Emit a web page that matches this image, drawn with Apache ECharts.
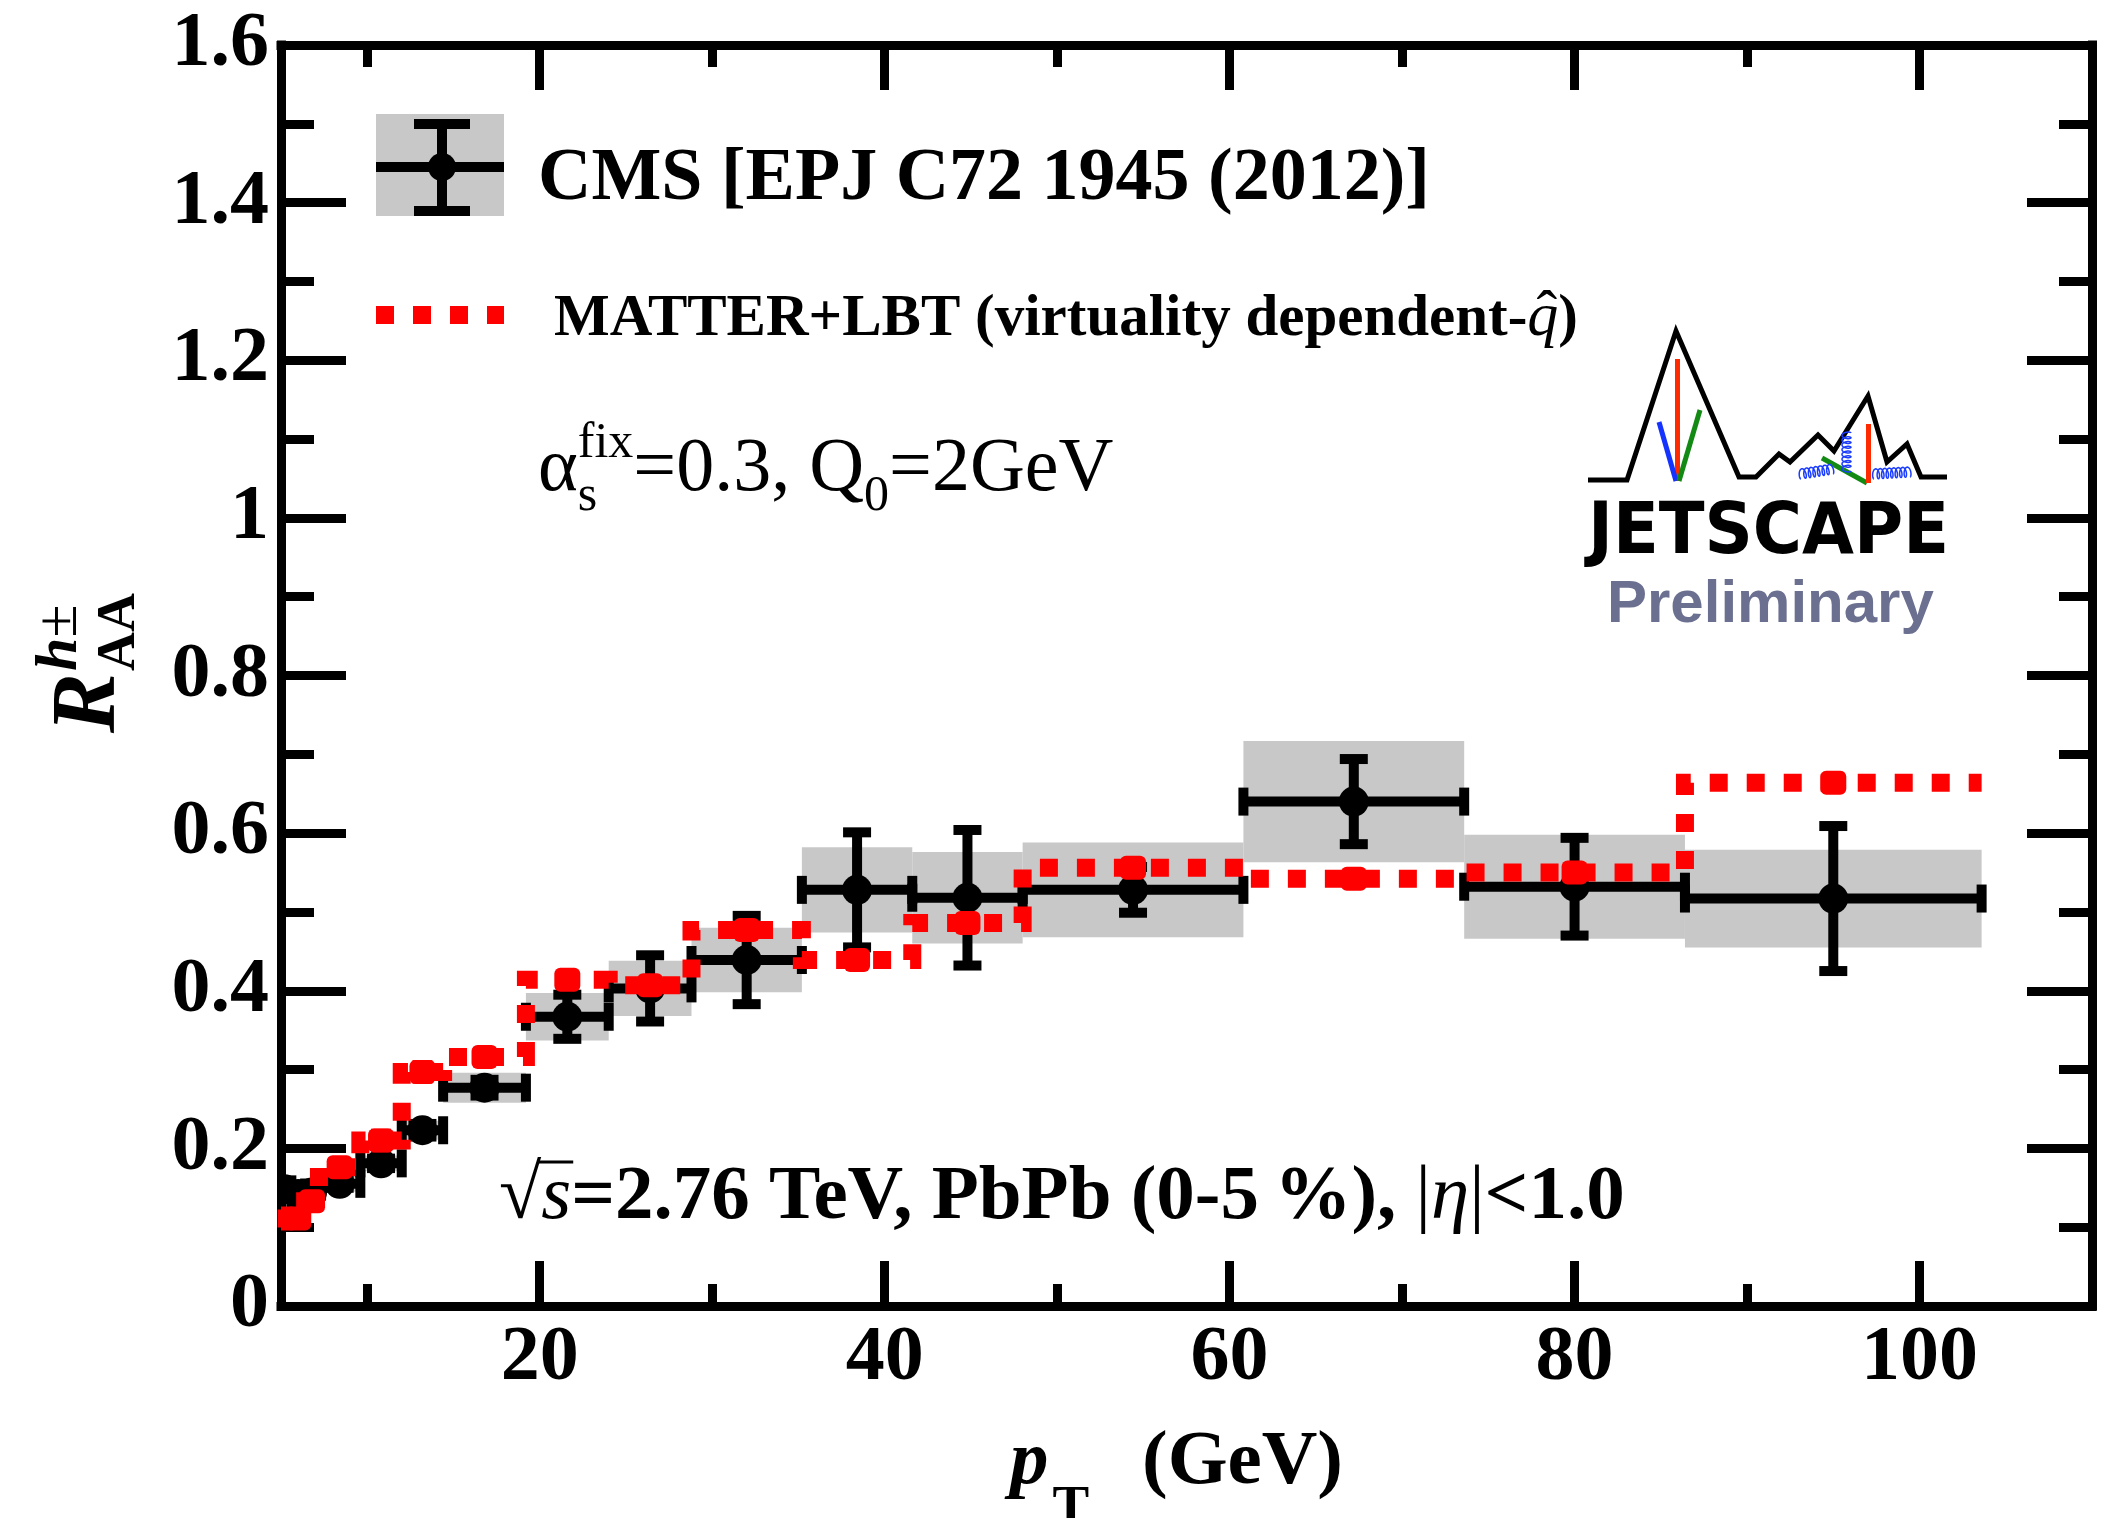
<!DOCTYPE html>
<html>
<head>
<meta charset="utf-8">
<script src="https://cdn.jsdelivr.net/npm/echarts@6/dist/echarts.min.js"></script>
<style>
  html, body { margin: 0; padding: 0; background: #fff; }
  #chart { width: 2104px; height: 1518px; }
</style>
</head>
<body>
<div id="chart"></div>
<script>
// Charged-hadron nuclear modification factor, PbPb 0-5%, sqrt(s)=2.76 TeV
const binLo   = [4.8, 5.6, 6.4, 7.2, 9.6, 12.0, 14.4, 19.2, 24.0, 28.8, 35.2, 41.6, 48.0, 60.8, 73.6, 86.4];
const binHi   = [5.6, 6.4, 7.2, 9.6, 12.0, 14.4, 19.2, 24.0, 28.8, 35.2, 41.6, 48.0, 60.8, 73.6, 86.4, 103.6];
const cmsPt   = [5.2, 6.0, 6.8, 8.4, 10.8, 13.2, 16.8, 21.6, 26.4, 32.0, 38.4, 44.8, 54.4, 67.2, 80.0, 95.0];
const cmsRaa  = [0.148, 0.142, 0.144, 0.155, 0.181, 0.223, 0.277, 0.367, 0.403, 0.439, 0.528, 0.518, 0.528, 0.640, 0.532, 0.517];
const cmsStat = [0.004, 0.004, 0.004, 0.005, 0.006, 0.008, 0.010, 0.028, 0.042, 0.056, 0.073, 0.086, 0.029, 0.054, 0.062, 0.092];
const cmsSyst = [0.010, 0.010, 0.010, 0.010, 0.010, 0.012, 0.019, 0.030, 0.035, 0.041, 0.054, 0.058, 0.060, 0.077, 0.066, 0.062];

// MATTER+LBT (virtuality dependent q-hat), same binning
const modelRaa = [0.111, 0.111, 0.133, 0.176, 0.210, 0.297, 0.316, 0.414, 0.407, 0.477, 0.439, 0.486, 0.556, 0.542, 0.550, 0.664];
const modelErr = [0.006, 0.006, 0.006, 0.008, 0.015, 0.015, 0.012, 0.012, 0.010, 0.010, 0.006, 0.012, 0.006, 0.012, 0.012, 0.014];

// Axis ticks
const xMajorTicks = [20, 40, 60, 80, 100];
const xMinorTicks = [10, 30, 50, 70, 90];
const yTickLabels = ['0', '0.2', '0.4', '0.6', '0.8', '1', '1.2', '1.4', '1.6'];

const SERIF = '"Liberation Serif", "Times New Roman", serif';
const SANS = '"Liberation Sans", Arial, sans-serif';
const LW = 9;

// ---------- text helpers ----------
const mctx = document.createElement('canvas').getContext('2d');
function fontOf(s) {
  return (s.style || 'normal') + ' ' + (s.weight || 'normal') + ' ' + s.size + 'px ' + (s.family || SERIF);
}
function widthOf(t, f) { mctx.font = f; mctx.textBaseline = 'alphabetic'; return mctx.measureText(t).width; }
function midOff(f) {
  mctx.font = f; mctx.textBaseline = 'middle';
  const d = mctx.measureText('H').actualBoundingBoxDescent;
  mctx.textBaseline = 'alphabetic';
  return d;
}
function textEl(t, f, x, yBase, fill, extra) {
  return Object.assign({
    type: 'text', x: x, y: yBase - midOff(f), z: 100, silent: true,
    style: { text: t, font: f, fill: fill || '#000', align: 'left', verticalAlign: 'middle',
             textAlign: 'left', textVerticalAlign: 'middle' }
  }, extra || {});
}
// lays out a run of text pieces on one baseline; 'hold' stacks the next piece at the same x
function run(x0, yBase, segs) {
  let x = x0, held = 0;
  const els = [], xs = [];
  segs.forEach(s => {
    const f = fontOf(s);
    const w = widthOf(s.t, f);
    const sx = (s.at != null ? s.at : x) + (s.dx || 0);
    xs.push([sx, sx + w]);
    els.push(textEl(s.t, f, sx, yBase + (s.dy || 0), s.color));
    if (s.hold) { held = Math.max(held, w); x = sx - (s.dx || 0); }
    else { x = sx + Math.max(w, held); held = 0; }
  });
  return { els, xs };
}

// ---------- series renderers ----------
function renderBox(params, api) {
  const p1 = api.coord([api.value(0), api.value(2) + api.value(3)]);
  const p2 = api.coord([api.value(1), api.value(2) - api.value(3)]);
  return { type: 'rect', shape: { x: p1[0], y: p1[1], width: p2[0] - p1[0], height: p2[1] - p1[1] },
           style: { fill: '#c8c8c8' } };
}
function renderPoint(params, api) {
  const x = api.value(0), y = api.value(1), lo = api.value(2), hi = api.value(3), e = api.value(4);
  const c = api.coord([x, y]), l = api.coord([lo, y]), h = api.coord([hi, y]);
  const t = api.coord([x, y + e]), b = api.coord([x, y - e]);
  const st = { stroke: '#000', lineWidth: 10 };
  const seg = (x1, y1, x2, y2) => ({ type: 'line', shape: { x1, y1, x2, y2 }, style: st });
  return { type: 'group', children: [
    seg(l[0], c[1], h[0], c[1]),
    seg(l[0], c[1] - 14, l[0], c[1] + 14),
    seg(h[0], c[1] - 14, h[0], c[1] + 14),
    seg(c[0], t[1], c[0], b[1]),
    seg(c[0] - 14, t[1], c[0] + 14, t[1]),
    seg(c[0] - 14, b[1], c[0] + 14, b[1]),
    { type: 'circle', shape: { cx: c[0], cy: c[1], r: 15 }, style: { fill: '#000' } }
  ] };
}
function renderModelPoint(params, api) {
  const x = api.value(0), y = api.value(1), e = api.value(2);
  const c = api.coord([x, y]), t = api.coord([x, y + e]), b = api.coord([x, y - e]);
  return { type: 'group', children: [
    { type: 'rect', shape: { x: c[0] - 10, y: t[1], width: 20, height: b[1] - t[1] }, style: { fill: '#ff0000' } },
    { type: 'rect', shape: { x: c[0] - 13, y: c[1] - 12, width: 26, height: 24, r: 6 }, style: { fill: '#ff0000' } }
  ] };
}

// model histogram as a step outline
const modelSteps = [];
binLo.forEach((lo, i) => { modelSteps.push([lo, modelRaa[i]], [binHi[i], modelRaa[i]]); });

// ---------- axes ----------
function xAx(pos, ticks, len, showLine, showLabel) {
  return {
    type: 'value', position: pos, min: 5, max: 110,
    axisLine: { show: showLine, onZero: false, lineStyle: { color: '#000', width: LW, cap: 'square' } },
    axisTick: { show: true, inside: true, length: len, customValues: ticks, lineStyle: { color: '#000', width: LW } },
    axisLabel: { show: showLabel, customValues: ticks, margin: 14, color: '#000',
                 fontFamily: SERIF, fontWeight: 'bold', fontSize: 78 },
    splitLine: { show: false }
  };
}
function yAx(pos, showLabel) {
  return {
    type: 'value', position: pos, min: 0, max: 1.6, interval: 0.2,
    axisLine: { show: true, onZero: false, lineStyle: { color: '#000', width: LW, cap: 'square' } },
    axisTick: { show: true, inside: true, length: 65, lineStyle: { color: '#000', width: LW } },
    minorTick: { show: true, splitNumber: 2, length: 33, lineStyle: { color: '#000', width: LW } },
    axisLabel: { show: showLabel, margin: 12, color: '#000', fontFamily: SERIF, fontWeight: 'bold', fontSize: 78,
                 formatter: v => yTickLabels[Math.round(v / 0.2)] },
    splitLine: { show: false }, minorSplitLine: { show: false }
  };
}

// ---------- annotations ----------
const graphics = [];

// legend: CMS
graphics.push({ type: 'rect', z: 100, shape: { x: 376, y: 114, width: 128, height: 102 }, style: { fill: '#c8c8c8' } });
[[376, 167, 504, 167], [442, 124, 442, 211], [414, 124, 470, 124], [414, 211, 470, 211]].forEach(p =>
  graphics.push({ type: 'line', z: 101, shape: { x1: p[0], y1: p[1], x2: p[2], y2: p[3] }, style: { stroke: '#000', lineWidth: 10 } }));
graphics.push({ type: 'circle', z: 101, shape: { cx: 442, cy: 167, r: 14 }, style: { fill: '#000' } });
graphics.push(...run(538, 199, [{ t: 'CMS [EPJ C72 1945 (2012)]', size: 74, weight: 'bold' }]).els);

// legend: MATTER+LBT
graphics.push({ type: 'line', z: 101, shape: { x1: 376, y1: 315, x2: 504, y2: 315 },
  style: { stroke: '#ff0000', lineWidth: 18, lineDash: [18, 19], lineCap: 'butt' } });
const lg2 = run(554, 335, [
  { t: 'MATTER+LBT (virtuality dependent-', size: 59, weight: 'bold' },
  { t: 'q', size: 62, style: 'italic' },
  { t: ')', size: 59, weight: 'bold' }
]);
graphics.push(...lg2.els);
{
  const qx = (lg2.xs[1][0] + lg2.xs[1][1]) / 2;
  const f = fontOf({ t: 'ˆ', size: 62 });
  graphics.push(textEl('ˆ', f, qx - widthOf('ˆ', f) / 2 + 4, 333, '#000'));
}

// alpha_s line
graphics.push(...run(538, 490, [
  { t: 'α', size: 76 },
  { t: 'fix', size: 50, dy: -33, hold: true },
  { t: 's', size: 50, dy: 20 },
  { t: '=0.3, Q', size: 76 },
  { t: '0', size: 50, dy: 20 },
  { t: '=2GeV', size: 76 }
]).els);

// collision system line
const sys = run(499, 1218, [
  { t: '√', size: 77 },
  { t: 's', size: 77, style: 'italic' },
  { t: '=2.76 TeV, PbPb (0-5\u2009%), ', size: 77, weight: 'bold' },
  { t: '|', size: 77 },
  { t: 'η', size: 77, style: 'italic' },
  { t: '|', size: 77 },
  { t: '<1.0', size: 77, weight: 'bold' }
]);
graphics.push(...sys.els);
graphics.push({ type: 'line', z: 100, shape: { x1: sys.xs[1][0] - 3, y1: 1218 - 56, x2: sys.xs[1][1] + 2, y2: 1218 - 56 },
  style: { stroke: '#000', lineWidth: 3 } });

// x-axis title
graphics.push(...run(1010, 1483, [
  { t: 'p', size: 77, weight: 'bold', style: 'italic' },
  { t: 'T', size: 55, weight: 'bold', dy: 40, dx: 4 },
  { t: '(GeV)', size: 77, weight: 'bold', at: 1142 }
]).els);

// y-axis title (rotated, reads bottom to top)
{
  const fR = fontOf({ size: 90, weight: 'bold', style: 'italic' });
  const fh = fontOf({ size: 60, weight: 'bold', style: 'italic' });
  const fpm = fontOf({ size: 60 });
  const fAA = fontOf({ size: 54, weight: 'bold' });
  const wR = widthOf('R', fR), wh = widthOf('h', fh);
  graphics.push({ type: 'group', x: 114, y: 733, rotation: Math.PI / 2, z: 100, children: [
    textEl('R', fR, 0, 0, '#000'),
    textEl('h', fh, wR + 2, -38),
    textEl('±', fpm, wR + 2 + wh, -38),
    textEl('AA', fAA, wR + 2, 20)
  ] });
}

// JETSCAPE logo
function coil(x0, y0, x1, y1, loops, amp) {
  const dx = x1 - x0, dy = y1 - y0, L = Math.hypot(dx, dy);
  const ux = dx / L, uy = dy / L, vx = uy, vy = -ux;
  const r = L / (2 * Math.PI * loops), pts = [], N = loops * 24;
  for (let k = 0; k <= N; k++) {
    const t = 2 * Math.PI * loops * k / N;
    const a = r * t - amp * 0.22 * Math.sin(t), b = amp * (1 - Math.cos(t)) / 2;
    pts.push([x0 + ux * a + vx * b, y0 + uy * a + vy * b]);
  }
  return { type: 'polyline', z: 102, shape: { points: pts }, style: { stroke: '#1a3cff', lineWidth: 1.5, fill: null } };
}
graphics.push({ type: 'polyline', z: 101, shape: { points: [
  [1588, 480], [1627, 480], [1676, 331], [1739, 477], [1756, 477], [1779, 454], [1790, 462],
  [1818, 435], [1834, 451], [1868, 396], [1887, 462], [1907, 444], [1921, 477], [1947, 477]] },
  style: { stroke: '#000', lineWidth: 5, fill: null, lineJoin: 'miter' } });
[[1677.5, 359, 1677.5, 481, '#ff2a00'], [1659, 422, 1676, 481, '#1533ff'], [1700, 410, 1679, 481, '#138a13'],
 [1822, 458, 1867, 483, '#138a13'], [1868.5, 424, 1868.5, 483, '#ff2a00']].forEach(p =>
  graphics.push({ type: 'line', z: 102, shape: { x1: p[0], y1: p[1], x2: p[2], y2: p[3] }, style: { stroke: p[4], lineWidth: 5 } }));
graphics.push(coil(1801, 479, 1833, 474, 7, 10));
graphics.push(coil(1851, 471, 1851, 433, 8, 9));
graphics.push(coil(1874, 479, 1910, 477, 8, 10));
{
  const fJ = '900 71px "DejaVu Sans", sans-serif';
  const wJ = widthOf('JETSCAPE', fJ);
  graphics.push(textEl('JETSCAPE', fJ, 1588, 553, '#000', { scaleX: 361 / wJ }));
  const fP = 'bold 60px ' + SANS;
  graphics.push(textEl('Preliminary', fP, 1607, 622, '#6b7090'));
}

// ---------- chart ----------
const chart = echarts.init(document.getElementById('chart'), null, { renderer: 'canvas', width: 2104, height: 1518 });
chart.setOption({
  animation: false,
  backgroundColor: '#fff',
  grid: { left: 281, right: 12, top: 45, bottom: 212, containLabel: false },
  xAxis: [
    xAx('bottom', xMajorTicks, 45, true, true),
    xAx('bottom', xMinorTicks, 22, false, false),
    xAx('top', xMajorTicks, 45, true, false),
    xAx('top', xMinorTicks, 22, false, false)
  ],
  yAxis: [yAx('left', true), yAx('right', false)],
  series: [
    { type: 'custom', name: 'CMS syst', clip: true, z: 2, silent: true,
      data: cmsPt.map((p, i) => [binLo[i], binHi[i], cmsRaa[i], cmsSyst[i]]),
      encode: { x: [0, 1], y: 2 }, renderItem: renderBox },
    { type: 'custom', name: 'CMS', clip: true, z: 3, silent: true,
      data: cmsPt.map((p, i) => [p, cmsRaa[i], binLo[i], binHi[i], cmsStat[i]]),
      encode: { x: [0, 2, 3], y: 1 }, renderItem: renderPoint },
    { type: 'line', name: 'MATTER+LBT', z: 4, silent: true, clip: true, symbol: 'none',
      data: modelSteps,
      lineStyle: { color: '#ff0000', width: 18, type: [18, 19], cap: 'butt', join: 'miter' } },
    { type: 'custom', name: 'MATTER+LBT points', clip: true, z: 5, silent: true,
      data: cmsPt.map((p, i) => [p, modelRaa[i], modelErr[i]]),
      encode: { x: 0, y: 1 }, renderItem: renderModelPoint }
  ],
  graphic: { elements: graphics }
});
</script>
</body>
</html>
